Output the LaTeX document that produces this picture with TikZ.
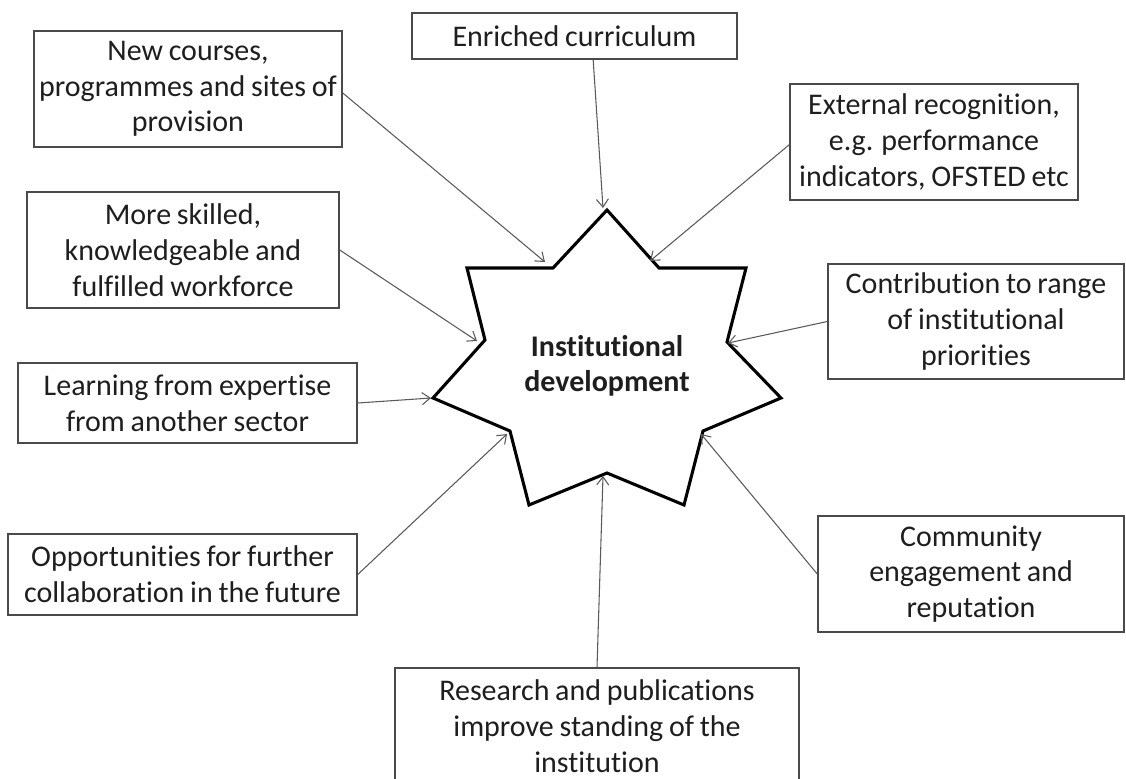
\documentclass[tikz,border=0pt]{standalone}
\usepackage{fontspec}
\setmainfont{Carlito}[Ligatures=NoCommon, WordSpace=0.85]
\usetikzlibrary{arrows.meta}
\definecolor{boxgray}{HTML}{4A4A4A}
\definecolor{linegray}{HTML}{5A5A5A}
\definecolor{textgray}{HTML}{1E1E1E}
\begin{document}
\begin{tikzpicture}[x=0.75pt,y=-0.75pt,
  box/.style={draw=boxgray, line width=1.1pt, inner sep=0pt, align=center,
    font=\fontsize{22.5}{26.8}\selectfont, text=textgray},
  sz/.style 2 args={minimum width=#1*0.75pt, minimum height=#2*0.75pt},
  conn/.style={draw=linegray, line width=0.8pt, -{Straight Barb[length=6pt,width=9pt]}},
  starline/.style={draw=black, line width=2.3pt, line join=miter},
  startext/.style={font=\fontsize{22.5}{26}\selectfont\bfseries, align=center, text=textgray}]
\useasboundingbox (0,0) rectangle (1126,778);

% star outline
\draw[starline] (607,210) -- (659,268) -- (746,268) -- (727,342) -- (781,398)
  -- (703,431) -- (684,505) -- (607,473) -- (529,505) -- (510,431)
  -- (433,398) -- (485,340) -- (467,268) -- (553,268) -- cycle;
\node[startext] (core) at (607,366) {Institutional\\development};

% arrow targets on the star
\coordinate (t1) at (545,262);
\coordinate (t2) at (603,208);
\coordinate (t3) at (650,261);
\coordinate (t4) at (477,341);
\coordinate (t5) at (431,398);
\coordinate (t6) at (507,434);
\coordinate (t7) at (728,343);
\coordinate (t8) at (701,434);
\coordinate (t9) at (603,476);

% boxes
\node[box, sz={308}{116}] (b1) at (188,89) {New courses,\\programmes and sites of\\provision};
\node[box, sz={325}{46}] (b2) at (574.5,36) {Enriched curriculum};
\node[box, sz={288}{116}] (b3) at (934,142) {External recognition,\\e.g. performance\\indicators, OFSTED etc};
\node[box, sz={312}{116}] (b4) at (183,250) {More skilled,\\knowledgeable and\\fulfilled workforce};
\node[box, sz={339}{80}] (b5) at (187.5,403) {Learning from expertise\\from another sector};
\node[box, sz={349}{81}] (b6) at (182.5,574.5) {Opportunities for further\\collaboration in the future};
\node[box, sz={296}{115}] (b7) at (976,321.5) {Contribution to range\\of institutional\\priorities};
\node[box, sz={306}{116}] (b8) at (971,574) {Community\\engagement and\\reputation};
\node[box, sz={404}{116}] (b9) at (597,726) {Research and publications\\improve standing of the\\institution};

% connectors
\draw[conn] ([yshift=-3pt]b1.east) -- (t1);
\draw[conn] ([xshift=14pt]b2.south) -- (t2);
\draw[conn] ([yshift=-2pt]b3.west) -- (t3);
\draw[conn] (b4.east) -- (t4);
\draw[conn] (b5.east) -- (t5);
\draw[conn] (b6.east) -- (t6);
\draw[conn] (b7.west) -- (t7);
\draw[conn] (b8.west) -- (t8);
\draw[conn] (b9.north) -- (t9);
\end{tikzpicture}
\end{document}
